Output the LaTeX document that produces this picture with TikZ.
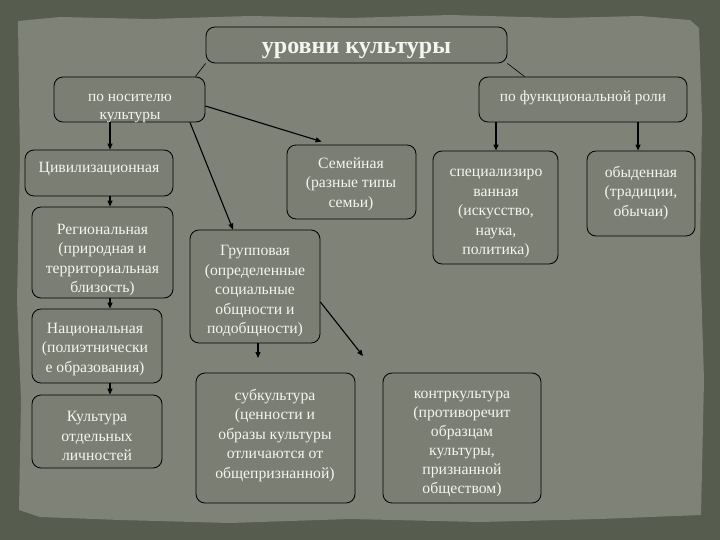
\documentclass[tikz,border=0pt]{standalone}
\usepackage{fontspec}
\setmainfont{Liberation Serif}
\usetikzlibrary{arrows.meta}
\definecolor{framec}{RGB}{86,92,78}
\definecolor{paperc}{RGB}{127,130,119}
\definecolor{boxc}{RGB}{123,126,115}
\definecolor{txtc}{RGB}{245,245,240}
\tikzset{
  box/.style={draw=black, line width=0.8pt, rounded corners=9pt, fill=boxc, inner sep=0pt},
  txt/.style={text=txtc, align=center, inner sep=0pt, yshift=-3pt,
    font=\fontsize{15.7}{19.5}\selectfont},
  smalltxt/.style={txt, font=\fontsize{15.4}{18}\selectfont},
  arr/.style={draw=black, line width=1.1pt, -{Triangle[length=6pt,width=5pt]}},
  ln/.style={draw=black, line width=0.6pt}
}
\begin{document}
\begin{tikzpicture}[x=1pt,y=-1pt]
\useasboundingbox (0,0) rectangle (720,540);
\fill[framec] (0,0) rectangle (720,540);
\fill[paperc] (18,21) -- (60,17) -- (150,19) -- (250,16) -- (350,18) -- (450,15) -- (560,18) -- (640,16) -- (690,20) -- (699,28) -- (702,120) -- (700,250) -- (704,380) -- (701,515) -- (600,519) -- (480,522) -- (350,519) -- (230,523) -- (120,520) -- (40,517) -- (19,510) -- (21,400) -- (17,300) -- (20,160) -- cycle;
% boxes
\node[box, minimum width=301pt, minimum height=36pt] (title) at (356.5,45) {};
\node[box, minimum width=151pt, minimum height=45pt] (nos) at (129.5,99.5) {};
\node[box, minimum width=208pt, minimum height=45pt] (func) at (583,99.5) {};
\node[box, minimum width=148pt, minimum height=46pt] (civ) at (99,173) {};
\node[box, minimum width=141pt, minimum height=91pt] (reg) at (102.5,252.5) {};
\node[box, minimum width=130pt, minimum height=74pt] (nat) at (97,346) {};
\node[box, minimum width=130pt, minimum height=73pt] (lich) at (97,431.5) {};
\node[box, minimum width=130pt, minimum height=113pt] (grp) at (255,286.5) {};
\node[box, minimum width=129pt, minimum height=74pt] (fam) at (351.5,182) {};
\node[box, minimum width=125pt, minimum height=113pt] (spec) at (495.5,207.5) {};
\node[box, minimum width=108pt, minimum height=85pt] (obyd) at (641,193.5) {};
\node[box, minimum width=159pt, minimum height=130pt] (sub) at (275.5,438) {};
\node[box, minimum width=158pt, minimum height=130pt] (kontr) at (462,438) {};
% texts
\node[txt, font=\fontsize{24}{28}\bfseries\selectfont] (titleT) at (356.5,47) {уровни культуры};
\node[smalltxt] (nosT) at (130,106) {по носителю\\культуры};
\node[smalltxt] (funcT) at (583,95) {по функциональной роли};
\node[txt] (civT) at (99,166) {Цивилизационная};
\node[txt] (regT) at (102.5,257) {Региональная\\(природная и\\территориальная\\близость)};
\node[txt] (natT) at (95,346.5) {Национальная\\(полиэтнически\\е образования)};
\node[txt] (lichT) at (97,433) {Культура\\отдельных\\личностей};
\node[txt] (grpT) at (255,288.5) {Групповая\\(определенные\\социальные\\общности и\\подобщности)};
\node[txt] (famT) at (351,181) {Семейная\\(разные типы\\семьи)};
\node[txt] (specT) at (496,210.5) {специализиро\\ванная\\(искусство,\\наука,\\политика)};
\node[txt] (obydT) at (641,190) {обыденная\\(традиции,\\обычаи)};
\node[txt] (subT) at (275,432.5) {субкультура\\(ценности и\\образы культуры\\отличаются от\\общепризнанной)};
\node[txt, font=\fontsize{15.7}{19}\selectfont] (kontrT) at (462,440.5) {контркультура\\(противоречит\\образцам\\культуры,\\признанной\\обществом)};
% helper coordinates
\coordinate (xl) at (110,0);
\coordinate (xg) at (233,0);
\coordinate (xn) at (190,0);
\coordinate (xs) at (496,0);
\coordinate (xo) at (638,0);
\coordinate (xsub) at (258,0);
\coordinate (ysub) at (0,358);
\coordinate (kend) at (363,356);
\coordinate (gy) at (0,302);
\coordinate (ny) at (0,106);
% connectors
\draw[ln] (title.south west) -- ([xshift=-10pt]nos.north east);
\draw[ln] (title.south east) -- ([xshift=46pt]func.north west);
\draw[arr] (nos.south -| xl) -- (civ.north -| xl);
\draw[arr] (civ.south -| xl) -- (reg.north -| xl);
\draw[arr] (reg.south -| xl) -- (nat.north -| xl);
\draw[arr] (nat.south -| xl) -- (lich.north -| xl);
\draw[arr] (nos.south -| xn) -- (grp.north -| xg);
\draw[arr] (nos.east |- ny) -- ([xshift=35pt,yshift=3pt]fam.north west);
\draw[arr] (func.south -| xs) -- (spec.north -| xs);
\draw[arr] (func.south -| xo) -- (obyd.north -| xo);
\draw[arr] (grp.south -| xsub) -- (xsub |- ysub);
\draw[arr] (grp.east |- gy) -- (kend);
\end{tikzpicture}
\end{document}
